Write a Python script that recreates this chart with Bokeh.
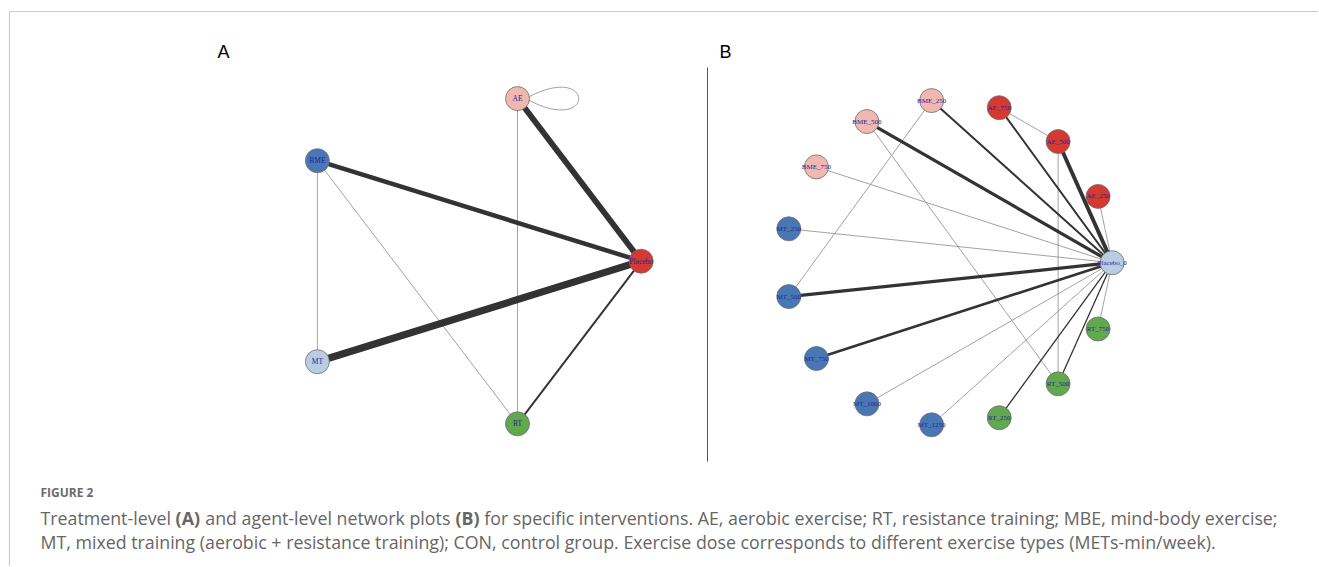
import math
from bokeh.plotting import figure
from bokeh.models import Range1d, ColumnDataSource
from bokeh.core.properties import value
from bokeh.embed import file_html
from bokeh.resources import INLINE

# ---------------- data ----------------
# Panel A: treatment-level network
a_nodes = ["Placebo", "AE", "BME", "MT", "RT"]
a_colors = ["#d43a30", "#efb8b1", "#4877b4", "#b8cce4", "#62a84f"]
a_from = ["MT", "AE", "BME", "Placebo", "AE", "BME", "BME"]
a_to = ["Placebo", "Placebo", "Placebo", "RT", "RT", "MT", "RT"]
a_studies = [11, 9, 7, 3, 1, 1, 1]
a_self_loops = ["AE"]

# Panel B: agent-level network
b_nodes = ["Placebo_0", "AE_250", "AE_500", "AE_750", "BME_250", "BME_500",
           "BME_750", "MT_250", "MT_500", "MT_750", "MT_1000", "MT_1250",
           "RT_250", "RT_500", "RT_750"]
b_colors = ["#b8cce4", "#d43a30", "#d43a30", "#d43a30", "#efb8b1", "#efb8b1",
            "#efb8b1", "#4877b4", "#4877b4", "#4877b4", "#4877b4", "#4877b4",
            "#62a84f", "#62a84f", "#62a84f"]
b_from = ["AE_250", "AE_500", "AE_750", "BME_250", "BME_500", "BME_750",
          "MT_250", "MT_500", "MT_750", "MT_1000", "MT_1250", "RT_250",
          "RT_500", "RT_750", "AE_750", "AE_500", "BME_250", "BME_500"]
b_to = ["Placebo_0"] * 14 + ["AE_500", "RT_500", "MT_500", "RT_500"]
b_studies = [1, 6, 3, 3, 5, 1, 1, 5, 4, 1, 1, 2, 2, 1, 1, 1, 1, 1]

panel_labels = ["A", "B"]
caption_head = "FIGURE 2"
caption_line1 = ["Treatment-level", "(A)", "and agent-level network plots", "(B)",
                 "for specific interventions. AE, aerobic exercise; RT, resistance training; MBE, mind-body exercise;"]
caption_line1_bold = [False, True, False, True, False]
caption_line2 = "MT, mixed training (aerobic + resistance training); CON, control group. Exercise dose corresponds to different exercise types (METs-min/week)."

# ---------------- figure ----------------
W, H = 1318, 566
p = figure(width=W, height=H, output_backend="svg", toolbar_location=None,
           x_range=Range1d(0, W), y_range=Range1d(H, 0),
           min_border=0)
p.axis.visible = False
p.grid.visible = False
p.outline_line_color = None
p.background_fill_color = "white"
p.border_fill_color = "white"

# frame lines
p.segment(x0=[9, 9], y0=[11, 11], x1=[W, 9], y1=[11, H],
          line_color="#cccccc", line_width=1.2)
# separator between panels
p.segment(x0=[707], y0=[67], x1=[707], y1=[461], line_color="#555555", line_width=1)


def circle_layout(names, cx, cy, rx, ry):
    n = len(names)
    pos = {}
    for i, nm in enumerate(names):
        ang = 2 * math.pi * i / n
        pos[nm] = (cx + rx * math.cos(ang), cy - ry * math.sin(ang))
    return pos


def width_of(k):
    return 0.65 * k if k > 1 else 0.8


def color_of(k):
    return "#333333" if k > 1 else "#8a8a8a"


def draw_network(nodes, colors, efrom, eto, studies, pos, font_size):
    order = sorted(range(len(efrom)), key=lambda i: studies[i])
    src = ColumnDataSource(dict(
        x0=[pos[efrom[i]][0] for i in order], y0=[pos[efrom[i]][1] for i in order],
        x1=[pos[eto[i]][0] for i in order], y1=[pos[eto[i]][1] for i in order],
        w=[width_of(studies[i]) for i in order], c=[color_of(studies[i]) for i in order]))
    p.segment("x0", "y0", "x1", "y1", source=src, line_width="w", line_color="c")
    nsrc = ColumnDataSource(dict(x=[pos[n][0] for n in nodes], y=[pos[n][1] for n in nodes],
                                 c=colors, t=nodes))
    p.scatter("x", "y", source=nsrc, size=24, fill_color="c", line_color="#6e6e6e",
              line_width=0.8)
    p.text("x", "y", text="t", source=nsrc, text_align="center", text_baseline="middle",
           text_font=value("Liberation Serif"), text_font_size=font_size,
           text_color="#24249c")


pos_a = circle_layout(a_nodes, 461.7, 260.7, 179, 171)
pos_b = circle_layout(b_nodes, 948.2, 262.2, 163.5, 163)

# self loop in panel A
for nm in a_self_loops:
    x, y = pos_a[nm]
    p.bezier(x0=[x + 11], y0=[y - 1.5], x1=[x + 11], y1=[y + 1.5],
             cx0=[x + 78], cy0=[y - 37], cx1=[x + 78], cy1=[y + 37],
             line_color="#8a8a8a", line_width=0.8)

draw_network(a_nodes, a_colors, a_from, a_to, a_studies, pos_a, "7.5px")
draw_network(b_nodes, b_colors, b_from, b_to, b_studies, pos_b, "7px")

# panel letters
p.text(x=[217, 719], y=[51, 51], text=panel_labels, text_align="left",
       text_baseline="middle", text_font=value("Liberation Sans"),
       text_font_size="18px", text_color="black")

# caption
FS = 17.8
p.text(x=[40], y=[492], text=[caption_head], text_align="left", text_baseline="middle",
       text_font=value("Open Sans"), text_font_size="12px", text_font_style="bold",
       text_color="#6b6b6b")
# approximate Open Sans advance widths (em) for flowing the mixed-weight line
seg_em = [7.33, 1.41, 13.79, 1.36, 0]
space_em = 0.26
x = 40.0
for st, bold, em in zip(caption_line1, caption_line1_bold, seg_em):
    p.text(x=[x], y=[517], text=[st], text_align="left", text_baseline="middle",
           text_font=value("Open Sans"), text_font_size=f"{FS}px",
           text_font_style="bold" if bold else "normal", text_color="#666666")
    x += (em + space_em) * FS
p.text(x=[40], y=[541], text=[caption_line2], text_align="left", text_baseline="middle",
       text_font=value("Open Sans"), text_font_size=f"{FS}px", text_color="#666666")

open("out.html", "w").write(file_html(p, INLINE))
